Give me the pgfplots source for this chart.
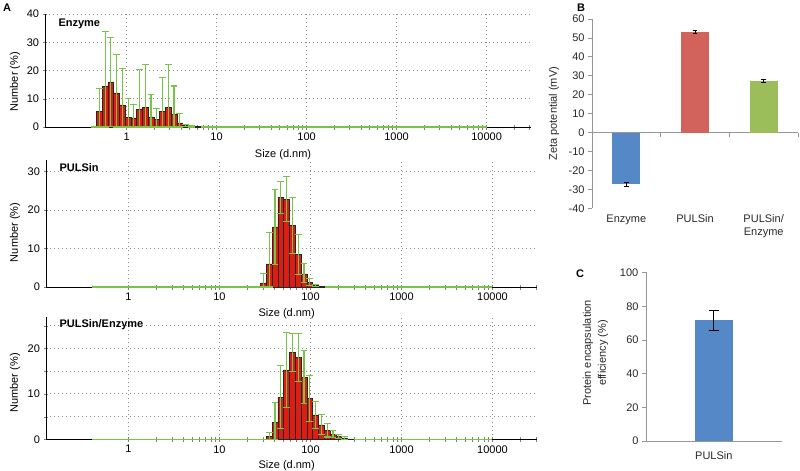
\documentclass[border=0pt]{standalone}
\usepackage{pgfplots}
\pgfplotsset{compat=1.18}
\usepackage{fontspec}
\setmainfont{Liberation Sans}
\newcommand\myfs{\fontsize{11bp}{13bp}\selectfont}
\definecolor{barred}{RGB}{218,30,20}
\definecolor{errgreen}{RGB}{120,196,70}
\definecolor{exblue}{RGB}{84,136,198}
\definecolor{exred}{RGB}{210,98,92}
\definecolor{exgreen}{RGB}{155,190,90}
\definecolor{axgray}{RGB}{80,80,80}
\definecolor{exaxis}{RGB}{150,150,150}
\definecolor{extext}{RGB}{40,40,40}

\begin{document}
\begin{tikzpicture}
\path[use as bounding box] (0,0) rectangle (800bp,-471bp);

% ---------------- Panel A1: Enzyme
\begin{axis}[anchor=south west, at={(45bp,-127bp)}, width=485.8bp, height=113bp,
    scale only axis,
    xmode=log, xmin=0.124, xmax=31000, ymin=0, ymax=40,
    axis x line*=bottom, axis y line*=left, clip=false,
    xtick={1,10,100,1000,10000},
    xticklabels={1,10,100,1000,10000},
    minor xtick={2,3,4,5,6,7,8,9,20,30,40,50,60,70,80,90,200,300,400,500,600,700,800,900,2000,3000,4000,5000,6000,7000,8000,9000,20000,30000},
    ytick={0,10,20,30,40}, yticklabels={0,10,20,30,40},
    tick align=center, major tick length=5bp, minor tick length=5bp,
    xmajorgrids, ymajorgrids,
    grid style={black!45, line width=0.9bp, dash pattern=on 0.9bp off 3.1bp},
    xlabel={Size (d.nm)}, ylabel={Number (\%)},
    xlabel style={font=\myfs, at={(axis description cs:0.49,0)}, anchor=center, yshift=-28bp},
    ylabel style={font=\myfs, at={(axis description cs:-0.0618,0.40)}, anchor=center},
    xticklabel style={font=\myfs}, yticklabel style={font=\myfs},
]
\addplot[errgreen, line width=1.3bp, mark=none] coordinates {(0.4,0) (10000,0)};
\addplot[ybar, mark=none, bar width=5.74bp, bar shift=0pt, fill=barred, draw=black!85, line width=0.5bp]
 table[x=x, y=y] {
 x y
 0.4985 5.4
 0.5774 14.5
 0.6686 16.0
 0.7743 12.1
 0.8967 7.8
 1.0384 3.4
 1.2021 3.2
 1.3926 6.4
 1.6132 6.9
 1.8683 3.4
 2.1632 2.8
 2.5054 5.4
 2.9014 6.9
 3.3599 4.4
 3.8905 1.5
 4.5060 0.6
 5.2185 0.25
 6.0431 0.1
};
\addplot[draw=none, mark=none, forget plot,
  error bars/.cd, y dir=both, y explicit,
  error bar style={draw=errgreen, line width=1.1bp},
  error mark options={draw=errgreen, mark size=3.4bp, line width=1.1bp, rotate=90}]
 table[x=x, y=y, y error plus=ep, y error minus=em] {
 x y ep em
 0.4985 5.4 8.2 5.4
 0.5774 14.5 19.3 14.5
 0.6686 16.0 15.8 15.8
 0.7743 12.1 13.7 12.1
 0.8967 7.8 12.9 7.8
 1.0384 3.4 6.7 3.4
 1.2021 3.2 4.8 3.2
 1.3926 6.4 14.0 6.4
 1.6132 6.9 15.2 6.9
 1.8683 3.4 8.0 3.4
 2.1632 2.8 3.6 2.8
 2.5054 5.4 12.1 5.4
 2.9014 6.9 15.3 6.9
 3.3599 4.4 10.1 4.4
 3.8905 1.5 3.4 1.5
 4.5060 0.6 0.4 0.4
 5.2185 0.25 0.3 0.25
};
\node[anchor=west, font=\bfseries\myfs] at (rel axis cs:0.0206,0.916) {Enzyme};
\end{axis}

% ---------------- Panel A2: PULSin
\begin{axis}[anchor=south west, at={(46bp,-287bp)}, width=491.2bp, height=127bp,
    scale only axis,
    xmode=log, xmin=0.124, xmax=31000, ymin=0, ymax=33,
    axis x line*=bottom, axis y line*=left, clip=false,
    xtick={1,10,100,1000,10000},
    xticklabels={1,10,100,1000,10000},
    minor xtick={2,3,4,5,6,7,8,9,20,30,40,50,60,70,80,90,200,300,400,500,600,700,800,900,2000,3000,4000,5000,6000,7000,8000,9000,20000,30000},
    ytick={0,10,20,30}, yticklabels={0,10,20,30},
    tick align=center, major tick length=5bp, minor tick length=5bp,
    xmajorgrids, ymajorgrids,
    grid style={black!45, line width=0.9bp, dash pattern=on 0.9bp off 3.1bp},
    xlabel={Size (d.nm)}, ylabel={Number (\%)},
    xlabel style={font=\myfs, at={(axis description cs:0.49,0)}, anchor=center, yshift=-27bp},
    ylabel style={font=\myfs, at={(axis description cs:-0.0631,0.43)}, anchor=center},
    xticklabel style={font=\myfs}, yticklabel style={font=\myfs},
]
\addplot[errgreen, line width=1.3bp, mark=none] coordinates {(0.4,0) (10000,0)};
\addplot[ybar, mark=none, bar width=5.81bp, bar shift=0pt, fill=barred, draw=black!85, line width=0.5bp]
 table[x=x, y=y] {
 x y
 30.36 1.1
 35.16 6.0
 40.72 15.6
 47.16 23.3
 54.62 22.8
 63.25 16.0
 73.25 8.5
 84.83 3.4
 98.24 1.3
 113.75 0.35
 131.73 0.1
};
\addplot[draw=none, mark=none, forget plot,
  error bars/.cd, y dir=both, y explicit,
  error bar style={draw=errgreen, line width=1.1bp},
  error mark options={draw=errgreen, mark size=3.4bp, line width=1.1bp, rotate=90}]
 table[x=x, y=y, y error plus=ep, y error minus=em] {
 x y ep em
 30.36 1.1 2.3 1.1
 35.16 6.0 8.1 6.0
 40.72 15.6 9.7 9.7
 47.16 23.3 4.1 4.1
 54.62 22.8 5.8 5.8
 63.25 16.0 7.2 7.2
 73.25 8.5 5.2 5.2
 84.83 3.4 2.6 2.3
 98.24 1.3 0.8 0.8
 113.75 0.35 0.3 0.3
};
\node[anchor=west, font=\bfseries\myfs] at (rel axis cs:0.0204,0.937) {PULSin};
\end{axis}

% ---------------- Panel A3: PULSin/Enzyme
\begin{axis}[anchor=south west, at={(46bp,-439.3bp)}, width=491.2bp, height=122.6bp,
    scale only axis,
    xmode=log, xmin=0.124, xmax=31000, ymin=0, ymax=27,
    axis x line*=bottom, axis y line*=left, clip=false,
    xtick={1,10,100,1000,10000},
    xticklabels={1,10,100,1000,10000},
    minor xtick={2,3,4,5,6,7,8,9,20,30,40,50,60,70,80,90,200,300,400,500,600,700,800,900,2000,3000,4000,5000,6000,7000,8000,9000,20000,30000},
    ytick={0,10,20}, yticklabels={0,10,20}, minor ytick={5,15,25},
    tick align=center, major tick length=5bp, minor tick length=5bp,
    xmajorgrids, ymajorgrids, yminorgrids,
    grid style={black!45, line width=0.9bp, dash pattern=on 0.9bp off 3.1bp},
    xlabel={Size (d.nm)}, ylabel={Number (\%)},
    xlabel style={font=\myfs, at={(axis description cs:0.49,0)}, anchor=center, yshift=-26bp},
    ylabel style={font=\myfs, at={(axis description cs:-0.0631,0.46)}, anchor=center},
    xticklabel style={font=\myfs}, yticklabel style={font=\myfs},
]
\addplot[errgreen, line width=1.3bp, mark=none] coordinates {(0.4,0) (10000,0)};
\addplot[ybar, mark=none, bar width=5.81bp, bar shift=0pt, fill=barred, draw=black!85, line width=0.5bp]
 table[x=x, y=y] {
 x y
 35.16 0.7
 40.72 3.7
 47.16 9.3
 54.62 15.3
 63.25 19.2
 73.25 18.1
 84.83 13.7
 98.24 9.0
 113.75 5.4
 131.73 3.2
 152.6 2.0
 176.7 1.1
 204.6 0.6
 237.0 0.3
 274.4 0.1
};
\addplot[draw=none, mark=none, forget plot,
  error bars/.cd, y dir=both, y explicit,
  error bar style={draw=errgreen, line width=1.1bp},
  error mark options={draw=errgreen, mark size=3.4bp, line width=1.1bp, rotate=90}]
 table[x=x, y=y, y error plus=ep, y error minus=em] {
 x y ep em
 35.16 0.7 0.8 0.7
 40.72 3.7 4.5 3.7
 47.16 9.3 7.0 7.0
 54.62 15.3 8.2 8.2
 63.25 19.2 4.2 4.2
 73.25 18.1 5.3 5.3
 84.83 13.7 5.8 5.8
 98.24 9.0 5.0 5.0
 113.75 5.4 3.0 3.0
 131.73 3.2 2.2 2.2
 152.6 2.0 1.5 1.5
 176.7 1.1 0.8 0.8
 204.6 0.6 0.5 0.5
 237.0 0.3 0.3 0.3
};
\node[anchor=west, font=\bfseries\myfs] at (rel axis cs:0.0204,0.935) {PULSin/Enzyme};
\end{axis}

% ---------------- Panel B: zeta potential
\begin{axis}[anchor=south west, at={(592bp,-208.3bp)}, scale only axis,
  width=206bp, height=189.3bp,
  xmin=-0.5, xmax=2.5, ymin=-40, ymax=60,
  axis x line*=bottom, axis y line*=left, clip=false,
  x axis line style={draw=none},
  y axis line style={exaxis, line width=0.8bp},
  xtick={0,1,2}, xticklabels={Enzyme,PULSin,{PULSin/\\Enzyme}},
  every major x tick/.append style={draw=none},
  ytick={-40,-30,-20,-10,0,10,20,30,40,50,60},
  yticklabels={-40,-30,-20,-10,0,10,20,30,40,50,60},
  every major y tick/.append style={exaxis, line width=0.8bp},
  tick align=outside, major tick length=4bp,
  yticklabel style={font=\myfs, text=extext},
  xticklabel style={font=\myfs, text=extext, align=center, anchor=north, inner sep=0pt, yshift=-2.5bp},
  ylabel={Zeta potential (mV)},
  ylabel style={font=\myfs, text=extext, at={(axis description cs:-0.184,0.5)}, anchor=center},
]
\addplot[exaxis, line width=0.8bp, mark=none, forget plot] coordinates {(-0.5,0) (2.5,0)};
\addplot[exaxis, line width=0.8bp, mark=none, forget plot] coordinates {(0.5,0) (0.5,-2.1)};
\addplot[exaxis, line width=0.8bp, mark=none, forget plot] coordinates {(1.5,0) (1.5,-2.1)};
\addplot[exaxis, line width=0.8bp, mark=none, forget plot] coordinates {(2.5,0) (2.5,-2.1)};
\addplot[ybar, mark=none, bar width=28bp, bar shift=0pt, fill=exblue, draw=none,
  error bars/.cd, y dir=both, y explicit,
  error bar style={draw=black, line width=0.8bp},
  error mark options={draw=black, mark size=2.4bp, line width=0.8bp, rotate=90}]
  table[x=x, y=y, y error=e] {
  x y e
  0 -27.4 1.1
  };
\addplot[ybar, mark=none, bar width=28bp, bar shift=0pt, fill=exred, draw=none,
  error bars/.cd, y dir=both, y explicit,
  error bar style={draw=black, line width=0.8bp},
  error mark options={draw=black, mark size=2.4bp, line width=0.8bp, rotate=90}]
  table[x=x, y=y, y error=e] {
  x y e
  1 53.2 0.9
  };
\addplot[ybar, mark=none, bar width=28bp, bar shift=0pt, fill=exgreen, draw=none,
  error bars/.cd, y dir=both, y explicit,
  error bar style={draw=black, line width=0.8bp},
  error mark options={draw=black, mark size=2.4bp, line width=0.8bp, rotate=90}]
  table[x=x, y=y, y error=e] {
  x y e
  2 27.3 0.7
  };
\end{axis}

% ---------------- Panel C: encapsulation efficiency
\begin{axis}[anchor=south west, at={(646bp,-441bp)}, scale only axis,
  width=135.7bp, height=169.1bp,
  xmin=-0.5, xmax=0.5, ymin=0, ymax=100.5,
  axis x line*=bottom, axis y line*=left, clip=false,
  x axis line style={exaxis, line width=0.8bp},
  y axis line style={exaxis, line width=0.8bp},
  xtick={0}, xticklabels={PULSin},
  every major x tick/.append style={draw=none},
  ytick={0,20,40,60,80,100}, yticklabels={0,20,40,60,80,},
  every major y tick/.append style={exaxis, line width=0.8bp},
  tick align=outside, major tick length=4bp,
  yticklabel style={font=\myfs, text=extext},
  xticklabel style={font=\myfs, text=extext, anchor=north, yshift=-3bp},
  ylabel={Protein encapsulation\\efficiency (\%)},
  ylabel style={font=\fontsize{11bp}{15bp}\selectfont, align=center, text=extext, at={(axis description cs:-0.372,0.52)}, anchor=center},
]
\addplot[ybar, mark=none, bar width=37.7bp, bar shift=0pt, fill=exblue, draw=none,
  error bars/.cd, y dir=both, y explicit,
  error bar style={draw=black, line width=0.8bp},
  error mark options={draw=black, mark size=5bp, line width=0.8bp, rotate=90}]
  table[x=x, y=y, y error=e] {
  x y e
  0 71.7 6.2
  };
\node[anchor=east, font=\myfs, text=extext, inner sep=0pt] at ([xshift=-7.5bp]axis cs:-0.5,100) {100};
\end{axis}

% panel letters
\node[font=\bfseries\myfs] at (7bp,-8bp) {A};
\node[font=\bfseries\myfs] at (581bp,-8bp) {B};
\node[font=\bfseries\myfs] at (580bp,-274bp) {C};
\end{tikzpicture}
\end{document}
